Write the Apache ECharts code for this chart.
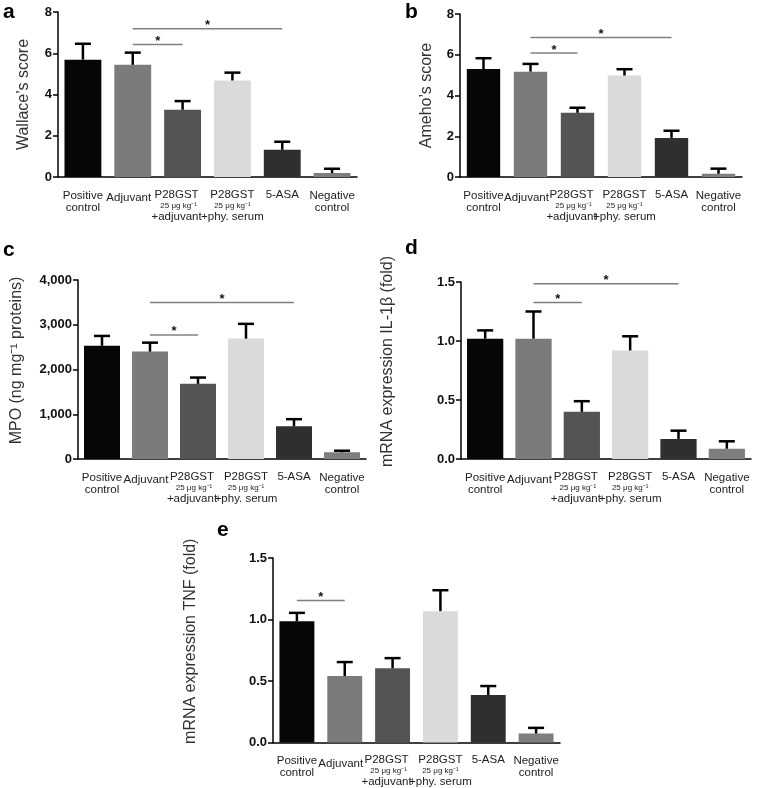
<!DOCTYPE html>
<html>
<head>
<meta charset="utf-8">
<script src="https://cdn.jsdelivr.net/npm/echarts@6/dist/echarts.min.js"></script>
<style>
html,body{margin:0;padding:0;background:#fff;}
#chart{width:758px;height:788px;}
</style>
</head>
<body>
<div id="chart"></div>
<script>
// ---------- data ----------
var categories = ['Positive control', 'Adjuvant', 'P28GST 25 μg kg⁻¹ +adjuvant', 'P28GST 25 μg kg⁻¹ +phy. serum', '5-ASA', 'Negative control'];

var wallaceMean = [5.69, 5.44, 3.26, 4.68, 1.32, 0.19];
var wallaceSem  = [0.77, 0.59, 0.42, 0.38, 0.39, 0.21];
var wallaceSig  = [[1, 2, 6.43], [1, 4, 7.19]];
var wallaceTicks = [0, 8, 2];

var amehoMean = [5.30, 5.17, 3.15, 4.98, 1.92, 0.16];
var amehoSem  = [0.53, 0.38, 0.25, 0.31, 0.35, 0.25];
var amehoSig  = [[1, 2, 6.08], [1, 4, 6.85]];
var amehoTicks = [0, 8, 2];

var mpoMean = [2530, 2400, 1680, 2690, 730, 150];
var mpoSem  = [220, 200, 140, 330, 160, 35];
var mpoSig  = [[1, 2, 2773], [1, 4, 3500]];
var mpoTicks = [0, 4000, 1000];

var il1bMean = [1.02, 1.02, 0.40, 0.92, 0.17, 0.087];
var il1bSem  = [0.07, 0.23, 0.09, 0.12, 0.07, 0.063];
var il1bSig  = [[1, 2, 1.326], [1, 4, 1.486]];
var il1bTicks = [0, 1.5, 0.5];

var tnfMean = [0.986, 0.54, 0.603, 1.068, 0.386, 0.073];
var tnfSem  = [0.068, 0.114, 0.083, 0.17, 0.073, 0.046];
var tnfSig  = [[0, 1, 1.154]];
var tnfTicks = [0, 1.5, 0.5];

var panelLetters = ['a', 'b', 'c', 'd', 'e'];
var yNames = ['Wallace’s score', 'Ameho’s score', 'MPO (ng mg⁻¹ proteins)', 'mRNA expression IL-1β (fold)', 'mRNA expression TNF (fold)'];

// ---------- styles / layout ----------
var barColors = ['#060606', '#7b7b7b', '#545454', '#dadada', '#2f2f2f', '#7e7e7e'];
var FONT = '"Liberation Sans", Arial, Helvetica, sans-serif';

var panels = [
  {mean: wallaceMean, sem: wallaceSem, sig: wallaceSig, ticks: wallaceTicks, dec: 0,
   grid: {left: 58, top: 12, width: 299, height: 165}, nameGap: 26, gap: '26%', namePad: 0},
  {mean: amehoMean, sem: amehoSem, sig: amehoSig, ticks: amehoTicks, dec: 0,
   grid: {left: 460, top: 14, width: 282, height: 163}, nameGap: 25, gap: '29%', namePad: 0},
  {mean: mpoMean, sem: mpoSem, sig: mpoSig, ticks: mpoTicks, dec: -1,
   grid: {left: 78, top: 280, width: 288, height: 179}, nameGap: 53, gap: '25%', namePad: 18},
  {mean: il1bMean, sem: il1bSem, sig: il1bSig, ticks: il1bTicks, dec: 1,
   grid: {left: 461, top: 282, width: 290, height: 177}, nameGap: 65, gap: '25%', namePad: 18},
  {mean: tnfMean, sem: tnfSem, sig: tnfSig, ticks: tnfTicks, dec: 1,
   grid: {left: 273, top: 558, width: 287, height: 186}, nameGap: 74, gap: '27%', namePad: 18}
];
var letterPos = [[3, 2], [405, 2], [3, 240], [405, 238], [217, 520]];

var labelRich = [
  '{p|Positive}\n{t|control}',
  '{m|Adjuvant}',
  '{l|P28GST}\n{sl|25 μg kg⁻¹}\n{l|+adjuvant}',
  '{t|P28GST}\n{s|25 μg kg⁻¹}\n{t|+phy. serum}',
  '{t|5-ASA}',
  '{p|Negative}\n{t|control}'
];

function fmtTick(v, dec) {
  if (dec === -1) return v.toLocaleString('en-US');
  return v.toFixed(dec);
}

var option = {
  animation: false,
  backgroundColor: '#ffffff',
  textStyle: {fontFamily: FONT},
  grid: [], xAxis: [], yAxis: [], series: [], graphic: []
};

panels.forEach(function (p, k) {
  option.grid.push(p.grid);
  option.xAxis.push({
    type: 'category', gridIndex: k, data: categories,
    axisLine: {lineStyle: {color: '#000', width: 1.5}},
    axisTick: {alignWithLabel: true, length: 5, lineStyle: {color: '#000', width: 1.5}},
    axisLabel: {
      interval: 0, margin: 11, color: '#222', fontFamily: FONT,
      formatter: function (val, idx) { return labelRich[idx]; },
      rich: {
        t: {fontSize: 11.5, lineHeight: 13, color: '#222', fontFamily: FONT},
        p: {fontSize: 11.5, lineHeight: 13, color: '#222', fontFamily: FONT, padding: [2, 0, 0, 0]},
        l: {fontSize: 11.5, lineHeight: 13, color: '#222', fontFamily: FONT, padding: [0, 12, 0, 0]},
        m: {fontSize: 11.5, lineHeight: 13, color: '#222', fontFamily: FONT, padding: [7, 8, 0, 0]},
        s: {fontSize: 8, lineHeight: 9, color: '#222', fontFamily: FONT},
        sl: {fontSize: 8, lineHeight: 9, color: '#222', fontFamily: FONT, padding: [0, 8, 0, 0]}
      }
    }
  });
  option.yAxis.push({
    type: 'value', gridIndex: k,
    min: p.ticks[0], max: p.ticks[1], interval: p.ticks[2],
    name: yNames[k], nameLocation: 'middle', nameGap: p.nameGap, nameRotate: 90,
    nameTextStyle: {fontSize: 16, color: '#333', fontFamily: FONT, padding: [0, 0, 0, p.namePad]},
    axisLine: {show: true, lineStyle: {color: '#000', width: 1.5}},
    axisTick: {show: true, length: 5, lineStyle: {color: '#000', width: 1.5}},
    splitLine: {show: false},
    axisLabel: {fontSize: 13, fontWeight: 'bold', color: '#111', margin: 6, fontFamily: FONT,
      formatter: (function (dec) { return function (v) { return fmtTick(v, dec); }; })(p.dec)}
  });
  option.series.push({
    type: 'bar', xAxisIndex: k, yAxisIndex: k, barCategoryGap: p.gap,
    data: p.mean.map(function (v, i) { return {value: v, itemStyle: {color: barColors[i]}}; }),
    z: 2
  });
  option.series.push({
    type: 'custom', xAxisIndex: k, yAxisIndex: k, z: 3,
    data: p.mean.map(function (v, i) { return [i, v, p.sem[i]]; }),
    encode: {x: 0, y: [1]},
    renderItem: function (params, api) {
      var x = api.value(0), m = api.value(1), e = api.value(2);
      var b = api.coord([x, m]);
      var t = api.coord([x, m + e]);
      var hw = 8;
      return {type: 'group', children: [
        {type: 'line', shape: {x1: b[0], y1: b[1], x2: t[0], y2: t[1]}, style: {stroke: '#000', lineWidth: 2.5}},
        {type: 'line', shape: {x1: t[0] - hw, y1: t[1], x2: t[0] + hw, y2: t[1]}, style: {stroke: '#000', lineWidth: 2.5}}
      ]};
    }
  });
  option.series.push({
    type: 'custom', xAxisIndex: k, yAxisIndex: k, z: 4,
    data: p.sig,
    encode: {x: [0, 1], y: [2]},
    renderItem: function (params, api) {
      var p1 = api.coord([api.value(0), api.value(2)]);
      var p2 = api.coord([api.value(1), api.value(2)]);
      return {type: 'group', children: [
        {type: 'line', shape: {x1: p1[0], y1: p1[1], x2: p2[0], y2: p2[1]}, style: {stroke: '#808080', lineWidth: 1.5}},
        {type: 'text', style: {text: '*', x: (p1[0] + p2[0]) / 2, y: p1[1] - 3, textAlign: 'center', textVerticalAlign: 'middle',
          font: 'bold 13px ' + FONT, fill: '#111'}}
      ]};
    }
  });
  option.graphic.push({
    type: 'text', left: letterPos[k][0], top: letterPos[k][1],
    style: {text: panelLetters[k], font: 'bold 21px ' + FONT, fill: '#000'}
  });
});

var chart = echarts.init(document.getElementById('chart'), null, {renderer: 'canvas'});
chart.setOption(option);
</script>
</body>
</html>
